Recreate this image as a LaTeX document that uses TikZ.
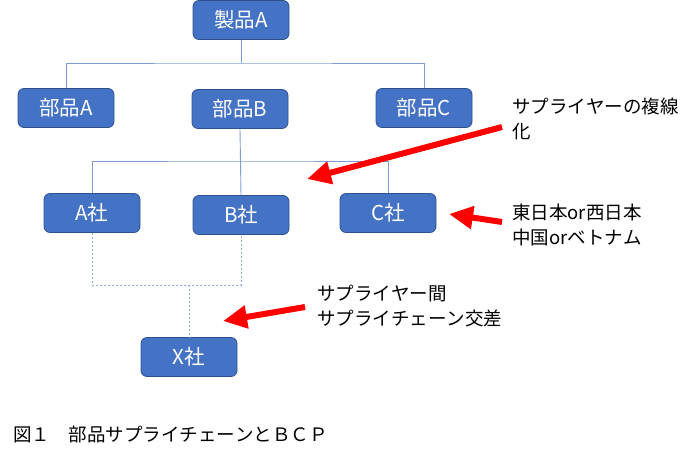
\documentclass[tikz,border=0pt]{standalone}
\usepackage{fontspec}
\setmainfont[Kerning=Off]{Noto Sans CJK JP}
\usetikzlibrary{arrows.meta}
\definecolor{boxfill}{HTML}{4472C4}
\definecolor{boxline}{HTML}{2F528F}
\definecolor{busline}{HTML}{7F9ED6}
\definecolor{dashline}{HTML}{8FAADC}
\definecolor{redarrow}{HTML}{FF0000}
\tikzset{
  blk/.style={draw=boxline, line width=0.8pt, fill=boxfill, rounded corners=6pt,
    minimum width=96pt, minimum height=39pt, inner sep=0pt, text=white,
    font=\fontsize{20.5}{20.5}\selectfont},
  bus/.style={draw=busline, line width=0.9pt},
  dsh/.style={draw=dashline, line width=0.8pt, dash pattern=on 2pt off 2pt},
  redarr/.style={draw=redarrow, line width=6pt, -{Triangle[length=24pt,width=22pt]}},
  note/.style={anchor=west, align=left, inner sep=0pt, text=black,
    font=\fontsize{18.5}{25}\selectfont}
}
\begin{document}
\begin{tikzpicture}[x=1pt,y=-1pt]
\useasboundingbox (0,0) rectangle (696,458);
\node[blk] (seihin) at (241,20) {製品A};
\node[blk] (buhinA) at (66,108) {部品A};
\node[blk] (buhinB) at (240,109) {部品B};
\node[blk] (buhinC) at (424,108) {部品C};
\node[blk] (Asha) at (92,213) {A社};
\node[blk] (Bsha) at (241,215) {B社};
\node[blk] (Csha) at (388,213) {C社};
\node[blk] (Xsha) at (189,357) {X社};
% bus 1
\coordinate (b1) at (241,63);
\draw[bus] (seihin.south) -- (b1);
\draw[bus] (buhinA.north) |- (b1) -| (buhinC.north);
% bus 2
\coordinate (b2) at (241,161);
\draw[bus] (buhinB.south) -- (Bsha.north);
\draw[bus] (Asha.north) |- (b2) -| (Csha.north);
% dashed
\coordinate (d1) at (241,285);
\coordinate (d2) at (189,285);
\draw[dsh] (Asha.south) |- (d1) -- (Bsha.south);
\draw[dsh] (d2) -- (Xsha.north);
% notes
\node[note] (n1) at (512,119) {サプライヤーの複線\\化};
\node[note] (n2) at (512,225) {東日本or西日本\\中国orベトナム};
\node[note] (n3) at (317,306) {サプライヤー間\\サプライチェーン交差};
\node[anchor=west, inner sep=0pt, font=\fontsize{18.5}{18.5}\selectfont] (cap) at (13,435) {図１　部品サプライチェーンとＢＣＰ};
% arrows
\coordinate (t1) at (502,127);
\coordinate (h1) at (307,179);
\coordinate (t2) at (502,222);
\coordinate (h2) at (449,214);
\coordinate (t3) at (305,307);
\coordinate (h3) at (223,321);
\draw[redarr] (t1) -- (h1);
\draw[redarr] (t2) -- (h2);
\draw[redarr] (t3) -- (h3);
\end{tikzpicture}
\end{document}
